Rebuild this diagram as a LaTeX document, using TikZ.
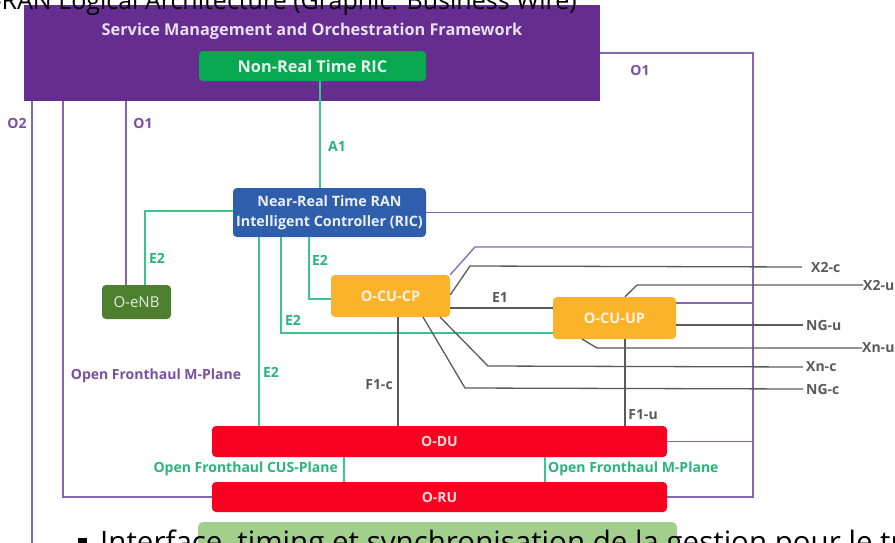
\documentclass[tikz,border=0pt]{standalone}
\usepackage{fontspec}
\setmainfont{Open Sans}
\definecolor{smoP}{HTML}{662D91}
\definecolor{lineP}{HTML}{8566AE}
\definecolor{txtP}{HTML}{7A4FA0}
\definecolor{lineG}{HTML}{3CC48E}
\definecolor{txtG}{HTML}{27B57A}
\definecolor{nonrtG}{HTML}{07A84F}
\definecolor{ricB}{HTML}{2F5EAD}
\definecolor{enbG}{HTML}{4E7F2E}
\definecolor{cuO}{HTML}{FBB32C}
\definecolor{duR}{HTML}{FA0020}
\definecolor{grayL}{HTML}{5A5A5A}
\definecolor{botG}{HTML}{A3CF8D}
\tikzset{
  box/.style={rounded corners=4pt, inner sep=0pt, font=\bfseries\fontsize{14.5}{16}\selectfont},
  plin/.style={draw=lineP, line width=1.3pt},
  glin/.style={draw=lineG, line width=1.3pt},
  klin/.style={draw=grayL, line width=1.3pt},
  plab/.style={text=txtP, font=\bfseries\fontsize{14}{16}\selectfont, inner sep=0pt},
  glab/.style={text=txtG, font=\bfseries\fontsize{14}{16}\selectfont, inner sep=0pt},
  klab/.style={text=grayL, font=\bfseries\fontsize{14}{16}\selectfont, inner sep=0pt},
}
\begin{document}
\begin{tikzpicture}[x=1pt,y=-1pt]
\useasboundingbox (0,0) rectangle (895,542);
\clip (0,0) rectangle (895,542);
% bottom slide content
\fill[botG, rounded corners=5pt] (198,522) rectangle (677,570);
\fill[black] (78,538) rectangle (87,547);
\node[anchor=base west, inner sep=0pt, font=\fontsize{29.5}{33}\selectfont] (btxt) at (100,552) {Interface, timing et synchronisation de la gestion pour le traitement};
% main boxes
\node[fill=smoP, minimum width=576pt, minimum height=96pt, inner sep=0pt] (smo) at (312,53) {};
\node[inner sep=0pt, text=white!85!smoP, font=\bfseries\fontsize{16.3}{18}\selectfont] (smot) at (312,31) {Service Management and Orchestration Framework};
\node[box, fill=nonrtG, text=white!90!nonrtG, minimum width=227pt, minimum height=30pt, font=\bfseries\fontsize{16.3}{18}\selectfont] (nonrt) at (312.5,66) {Non-Real Time RIC};
\node[box, fill=ricB, text=white!90!ricB, minimum width=193pt, minimum height=49pt, align=center, font=\bfseries\fontsize{14.3}{20}\selectfont] (nearrt) at (329.5,212.5) {Near-Real Time RAN\\Intelligent Controller (RIC)};
\node[box, fill=enbG, text=white!85!enbG, minimum width=69pt, minimum height=34pt, font=\fontsize{15}{17}\selectfont] (oenb) at (136.5,302) {O-eNB};
\node[box, fill=cuO, text=white!85!cuO, minimum width=119pt, minimum height=42pt] (ocucp) at (390.5,296) {O-CU-CP};
\node[box, fill=cuO, text=white!85!cuO, minimum width=123pt, minimum height=42pt] (ocuup) at (614.5,318) {O-CU-UP};
\node[box, fill=duR, text=white!85!duR, minimum width=455pt, minimum height=31pt, font=\bfseries\fontsize{14}{16}\selectfont] (odu) at (439.5,441.5) {O-DU};
\node[box, fill=duR, text=white!85!duR, minimum width=455pt, minimum height=30pt, font=\bfseries\fontsize{14}{16}\selectfont] (oru) at (439.5,497) {O-RU};
% helper coordinates
\coordinate (rx) at (753,0);
\coordinate (o2end) at (32,560);
% right-hand labels
\node[klab, anchor=west] (x2c) at (811,267) {X2-c};
\node[klab, anchor=west] (x2u) at (863,285) {X2-u};
\node[klab, anchor=west] (ngu) at (806,325) {NG-u};
\node[klab, anchor=west] (xnu) at (862,348) {Xn-u};
\node[klab, anchor=west] (xnc) at (806,367) {Xn-c};
\node[klab, anchor=west] (ngc) at (806,389) {NG-c};
% purple O-interfaces
\draw[plin] (smo.south -| 32,0) -- (o2end);
\draw[plin] (smo.south -| 63,0) |- (oru.west);
\draw[plin] (smo.south -| 126,0) -- (oenb.north -| 126,0);
\draw[plin] (smo.east) -| (oru.east -| rx) -- (oru.east);
\draw[plin] (nearrt.east) -- (nearrt.east -| rx);
\draw[plin] (ocucp.north east) -- (475,247) -- (rx |- 0,247);
\draw[plin] (ocuup.east |- 0,303) -- (rx |- 0,303);
\draw[plin] (odu.east) -- (odu.east -| rx);
% green interfaces
\draw[glin] (nonrt.south -| 320,0) -- (nearrt.north -| 320,0);
\draw[glin] (nearrt.west |- 0,211) -| (oenb.north -| 145,0);
\draw[glin] (nearrt.south -| 309,0) |- (ocucp.west |- 0,299);
\draw[glin] (nearrt.south -| 281,0) |- (ocuup.west |- 0,333);
\draw[glin] (nearrt.south -| 259,0) -- (odu.north -| 259,0);
\draw[glin] (odu.south -| 344,0) -- (oru.north -| 344,0);
\draw[glin] (odu.south -| 545,0) -- (oru.north -| 545,0);
% gray interfaces
\draw[klin] (ocucp.east |- 0,295) -- (470,266) -- ([xshift=-9pt]x2c.west);
\draw[klin] (ocuup.north -| 625,0) -- (637,285) -- (x2u.west);
\draw[klin] (ocucp.east |- 0,308) -- (ocuup.west |- 0,308);
\draw[klin] (ocuup.east |- 0,325) -- ([xshift=-3pt]ngu.west);
\draw[klin] (582,339) -- (597,348) -- (xnu.west);
\draw[klin] (440,317) -- (488,366) -- ([xshift=-3pt]xnc.west);
\draw[klin] (423,317) -- (465,388) -- ([xshift=-3pt]ngc.west);
\draw[klin] (ocucp.south -| 398,0) -- (odu.north -| 398,0);
\draw[klin] (ocuup.south -| 625,0) -- (odu.north -| 625,0);
% labels
\node[plab] (lo2) at (17,123) {O2};
\node[plab] (lo1a) at (143,123) {O1};
\node[plab] (lo1b) at (640,70) {O1};
\node[plab] (lmp) at (156,376) {Open Fronthaul M-Plane};
\node[glab] (la1) at (337,146) {A1};
\node[glab] (le2a) at (157,258) {E2};
\node[glab] (le2b) at (320,260) {E2};
\node[glab] (le2c) at (293,320) {E2};
\node[glab] (le2d) at (271,372) {E2};
\node[glab, anchor=east] (lcus) at (338,469) {Open Fronthaul CUS-Plane};
\node[glab, anchor=west] (lmp2) at (548,469) {Open Fronthaul M-Plane};
\node[klab] (le1) at (500,297) {E1};
\node[klab] (lf1c) at (379,385) {F1-c};
\node[klab] (lf1u) at (643,415) {F1-u};
% top caption (cut off)
\node[anchor=base east, inner sep=0pt, font=\fontsize{25}{29}\selectfont] (ttxt) at (577,9) {O-RAN Logical Architecture (Graphic: Business Wire)};
\end{tikzpicture}
\end{document}
